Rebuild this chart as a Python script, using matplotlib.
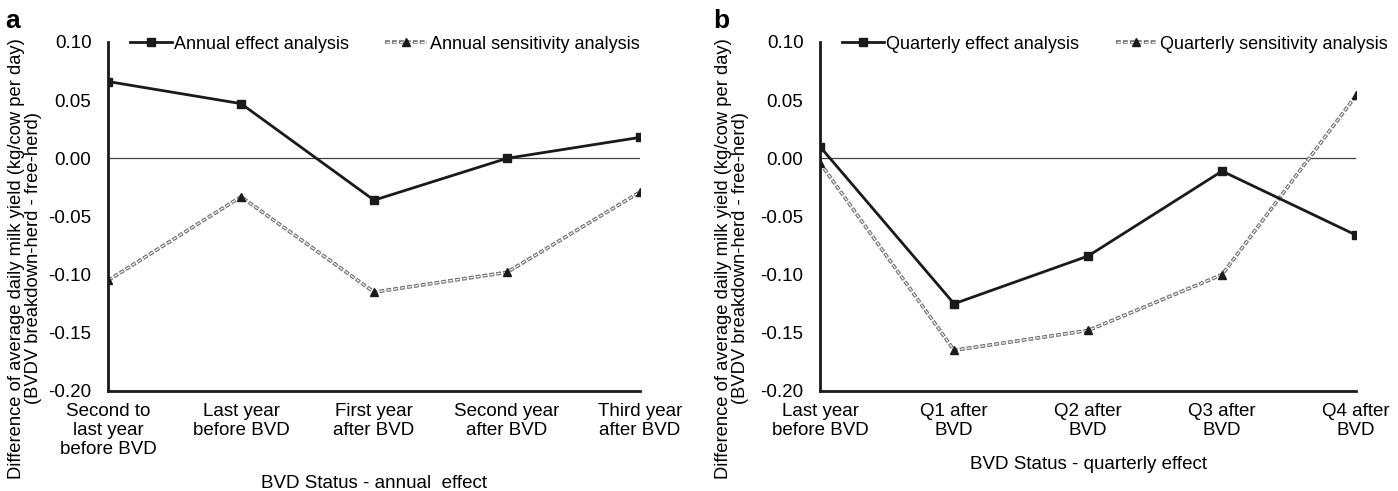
import matplotlib
matplotlib.use("Agg")
import matplotlib.pyplot as plt
from matplotlib.lines import Line2D

plt.rcParams["font.family"] = ["Liberation Sans", "DejaVu Sans"]
plt.rcParams["lines.scale_dashes"] = False

annual_labels = ["Second to\nlast year\nbefore BVD", "Last year\nbefore BVD", "First year\nafter BVD",
                 "Second year\nafter BVD", "Third year\nafter BVD"]
annual_effect = [0.066, 0.047, -0.036, 0.000, 0.018]
annual_sens = [-0.105, -0.033, -0.115, -0.098, -0.029]

quarter_labels = ["Last year\nbefore BVD", "Q1 after\nBVD", "Q2 after\nBVD", "Q3 after\nBVD", "Q4 after\nBVD"]
quarter_effect = [0.010, -0.125, -0.084, -0.011, -0.066]
quarter_sens = [-0.004, -0.165, -0.148, -0.100, 0.054]

yticks = [0.10, 0.05, 0.00, -0.05, -0.10, -0.15, -0.20]
ylabel = "Difference of average daily milk yield (kg/cow per day)\n(BVDV breakdown-herd - free-herd)"

DARK = "#1a1a1a"
GREY = "#707070"
outer_dash = (0, (3.5, 1.5))
inner_dash = (4.5, (2.5, 2.5))


def hollow_dash(ax, x, y):
    # grey dashes with a white core, like the original "hollow" dashed line
    ax.plot(x, y, color=GREY, lw=2.6, ls=outer_dash, zorder=2)
    ax.plot(x, y, color="white", lw=0.9, ls=inner_dash, zorder=2)


def draw_panel(ax, labels, effect, sens, names, xlabel, legend_x, ylab_x):
    x = list(range(len(labels)))
    ax.axhline(0, color="#444444", lw=0.9, zorder=1)
    ax.plot(x, effect, color=DARK, lw=2, marker="s", ms=6, zorder=3)
    hollow_dash(ax, x, sens)
    ax.plot(x, sens, ls="none", marker="^", ms=6, color=DARK, zorder=4)

    h1 = Line2D([], [], color=DARK, lw=2, marker="s", ms=6)
    h2a = Line2D([], [], color=GREY, lw=2.6, ls=outer_dash)
    h2b = Line2D([], [], color="white", lw=0.9, ls=inner_dash, marker="^", ms=6,
                 mfc=DARK, mec=DARK)
    ax.legend([h1, (h2a, h2b)], names, ncol=2, frameon=False, loc="upper center",
              bbox_to_anchor=(legend_x, 1.065), fontsize=13, handlelength=2.3,
              handletextpad=0.15, columnspacing=2.0)

    ax.set_xlim(0, len(labels) - 1)
    ax.set_ylim(-0.20, 0.10)
    ax.set_yticks(yticks)
    ax.set_yticklabels([f"{v:.2f}" for v in yticks])
    ax.set_xticks(x)
    ax.set_xticklabels(labels, va="top", linespacing=1.15)
    ax.tick_params(axis="y", length=0, labelsize=13.5, pad=12)
    ax.tick_params(axis="x", length=0, labelsize=13.5, pad=9)
    for s in ["top", "right"]:
        ax.spines[s].set_visible(False)
    for s in ["left", "bottom"]:
        ax.spines[s].set_linewidth(2)
        ax.spines[s].set_color(DARK)
    ax.set_ylabel(ylabel, fontsize=13.2, linespacing=1.0)
    ax.yaxis.set_label_coords(ylab_x, 0.38)
    ax.set_xlabel(xlabel, fontsize=13.5, labelpad=12)


fig = plt.figure(figsize=(13.98, 4.91), dpi=100)
ax1 = fig.add_axes([0.0773, 0.2037, 0.3805, 0.7108])
ax2 = fig.add_axes([0.5866, 0.2037, 0.3834, 0.7108])

draw_panel(ax1, annual_labels, annual_effect, annual_sens,
           ["Annual effect analysis", "Annual sensitivity analysis"],
           "BVD Status - annual  effect", 0.52, -0.125)
draw_panel(ax2, quarter_labels, quarter_effect, quarter_sens,
           ["Quarterly effect analysis", "Quarterly sensitivity analysis"],
           "BVD Status - quarterly effect", 0.55, -0.132)

fig.text(0.004, 0.943, "a", fontsize=19, fontweight="bold", va="baseline", ha="left")
fig.text(0.510, 0.943, "b", fontsize=19, fontweight="bold", va="baseline", ha="left")

fig.savefig("out.png", dpi=100)
